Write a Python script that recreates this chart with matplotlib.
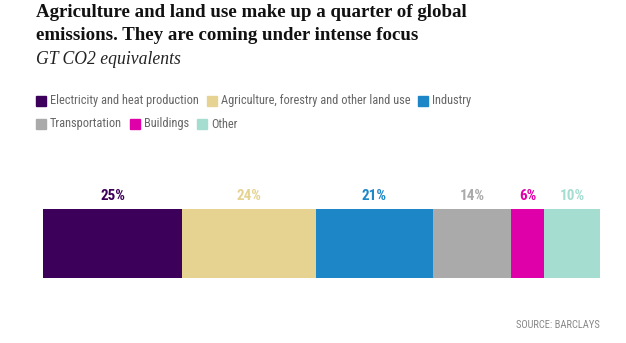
import matplotlib.pyplot as plt
from matplotlib.patches import Rectangle
from matplotlib import font_manager as fm

# ===============================
# DATA
# ===============================
sectors = ["Electricity and heat production",
           "Agriculture, forestry and other land use",
           "Industry", "Transportation", "Buildings", "Other"]
shares = [25, 24, 21, 14, 6, 10]
colors = ["#3d005a", "#e6d392", "#1d86c7", "#aaaaaa", "#e000a9", "#a5ded0"]

W, H = 626, 343
fig = plt.figure(figsize=(W / 100, H / 100), dpi=100)

SERIF = ["Liberation Serif", "DejaVu Serif"]
names = {f.name for f in fm.fontManager.ttflist}
narrow = [n for n in ["Liberation Sans Narrow", "Roboto Condensed",
                      "Open Sans Condensed"] if n in names]
NARROW = narrow[:1] + ["DejaVu Sans"]

# ===============================
# TITLES
# ===============================
fig.text(36 / W, 1 - 4 / H,
         "Agriculture and land use make up a quarter of global\n"
         "emissions. They are coming under intense focus",
         family=SERIF, weight="bold", fontsize=13.55, va="top", ha="left",
         linespacing=1.45, color="#111111")
fig.text(36 / W, 1 - 60 / H, "GT CO2 equivalents", family=SERIF,
         style="italic", fontsize=12.7, va="center", ha="left",
         color="#222222")

fig.canvas.draw()
renderer = fig.canvas.get_renderer()


def fitted_text(x, y, s, width, size, **kw):
    # shrink the font until the string takes the given pixel width
    t = fig.text(x, y, s, family=NARROW, stretch="condensed",
                 fontsize=size, **kw)
    w = t.get_window_extent(renderer).width
    t.set_fontsize(size * width / w)
    return t


# ===============================
# LEGEND (flowing rows)
# ===============================
rows = [sectors[:3], sectors[3:]]
row_y = [101, 124]
idx = 0
for row, yc in zip(rows, row_y):
    x = 36
    for name in row:
        fig.patches.append(Rectangle((x / W, 1 - (yc + 5) / H), 10 / W, 10 / H,
                                     transform=fig.transFigure,
                                     color=colors[idx]))
        t = fig.text((x + 14) / W, 1 - yc / H, name, family=NARROW,
                     stretch="condensed", fontsize=11, va="center",
                     ha="left", color="#666666")
        if idx == 0:
            w0 = t.get_window_extent(renderer).width
            legend_size = 11 * 148 / w0
        t.set_fontsize(legend_size)
        bb = t.get_window_extent(renderer)
        x = x + 14 + bb.width + 8
        idx += 1

# ===============================
# STACKED BAR
# ===============================
ax = fig.add_axes([43 / W, 1 - 278 / H, 557 / W, 69 / H])
left = 0
for s, c in zip(shares, colors):
    ax.barh(0, s, left=left, height=1, color=c, edgecolor="none")
    ax.text(left + s / 2, 0.5 + 13 / 69, f"{s}%", ha="center",
            va="center", family=NARROW, stretch="condensed",
            weight="bold", fontsize=11, color=c)
    left += s
ax.set_xlim(0, sum(shares))
ax.set_ylim(-0.5, 0.5)
ax.axis("off")

# bar labels share one size, set from the width of "25%"
fig.canvas.draw()
labels = ax.texts
w25 = labels[0].get_window_extent(renderer).width
for lab in labels:
    lab.set_fontsize(11 * 25 / w25)

fitted_text(600 / W, 1 - 325 / H, "SOURCE: BARCLAYS", 84, 8,
            ha="right", va="center", color="#888888")

fig.savefig("out.png", dpi=100)
